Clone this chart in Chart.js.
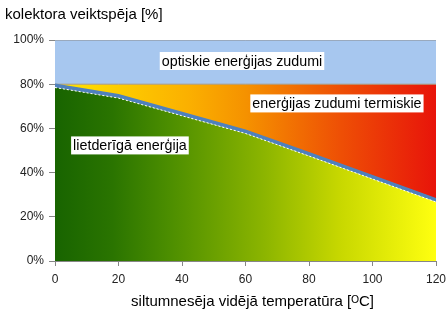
<!DOCTYPE html>
<html>
<head>
<meta charset="utf-8">
<script src="https://cdn.jsdelivr.net/npm/chart.js@4/dist/chart.umd.min.js"></script>
<style>
  html, body { margin: 0; padding: 0; background: #fff; }
  #wrap { width: 448px; height: 322px; }
</style>
</head>
<body>
<div id="wrap"><canvas id="eff-chart" width="448" height="322"></canvas></div>
<script>
// mean fluid temperature, °C
const temperatures = [0, 20, 40, 60, 80, 100, 120];
// collector efficiency curve (top of the blue line), %
const collectorCurve = [80, 75.2, 67.2, 59.2, 49, 38.6, 28.2];
// useful energy (green area top), %
const usefulEnergy = [78.5, 73.7, 65.7, 57.7, 47.5, 37.1, 26.7];
// limit after optical losses, %
const opticalLimit = [80, 80, 80, 80, 80, 80, 80];
// total incoming energy, %
const totalEnergy = [100, 100, 100, 100, 100, 100, 100];
const yTicks = [0, 20, 40, 60, 80, 100];

// area captions: [text, x (°C), y (%)]
const captions = [
    ['optiskie enerģijas zudumi', 58.9, 90.5],
    ['enerģijas zudumi termiskie', 88.8, 71.3],
    ['lietderīgā enerģija', 23.6, 52.3]
];
const xTitle = 'siltumnesēja vidējā temperatūra [ᴼC]';

const FONT = '"Liberation Sans", Arial, sans-serif';

//helper for horizontal gradients across the plot area
function hGradient(stops) {
    return ctx => {
        const chart = ctx.chart;
        const area = chart.chartArea;
        if (!area) return null;
        const g = chart.ctx.createLinearGradient(area.left, 0, area.right, 0);
        stops.forEach(s => g.addColorStop(s[0], s[1]));
        return g;
    };
}

const captionPlugin = {
    id: 'captions',
    afterDatasetsDraw(chart) {
        const c = chart.ctx;
        const xs = chart.scales.x, ys = chart.scales.y;
        c.save();
        c.font = '14.3px ' + FONT;
        c.textBaseline = 'middle';
        c.textAlign = 'center';
        captions.forEach(([text, x, y]) => {
            const px = xs.getPixelForValue(x);
            const py = ys.getPixelForValue(y);
            const w = c.measureText(text).width + 4;
            c.fillStyle = '#fff';
            c.fillRect(px - w / 2, py - 9, w, 18);
            c.fillStyle = '#000';
            c.fillText(text, px, py + 1);
        });
        // axis caption under the x ticks, slightly right of centre
        const area = chart.chartArea;
        c.font = '15px ' + FONT;
        c.fillText(xTitle, (area.left + area.right) / 2 + 7, 302);
        c.restore();
    }
};

const points = arr => arr.map((v, i) => ({ x: temperatures[i], y: v }));

new Chart(document.querySelector('#eff-chart').getContext('2d'), {
    type: 'line',
    data: {
        datasets: [
            {
                label: 'lietderīgā enerģija',
                data: points(usefulEnergy),
                fill: 'origin',
                backgroundColor: hGradient([
                    [0, '#186400'], [0.15, '#2a7400'], [0.3, '#4c8e00'],
                    [0.55, '#8cb500'], [0.75, '#c8d800'], [1, '#ffff10']
                ]),
                borderColor: '#ffffff',
                borderWidth: 1,
                borderDash: [2, 2],
                pointRadius: 0,
                tension: 0
            },
            {
                label: 'kolektora līkne',
                data: points(collectorCurve),
                fill: '-1',
                backgroundColor: '#4f81bd',
                borderColor: '#4f81bd',
                borderWidth: 1.5,
                pointRadius: 0,
                tension: 0
            },
            {
                label: 'termiskie zudumi',
                data: points(opticalLimit),
                fill: '-1',
                backgroundColor: hGradient([
                    [0, '#ffe600'], [0.35, '#fbb000'], [0.5, '#f59200'],
                    [0.75, '#ee4f05'], [1, '#e8140a']
                ]),
                borderColor: '#a89a80',
                borderWidth: 1,
                pointRadius: 0
            },
            {
                label: 'optiskie zudumi',
                data: points(totalEnergy),
                fill: '-1',
                backgroundColor: '#a7c7ef',
                borderColor: '#8c8c8c',
                borderWidth: 1,
                pointRadius: 0
            }
        ]
    },
    options: {
        responsive: false,
        animation: false,
        layout: { padding: { left: 5, right: 12, top: 0, bottom: 0 } },
        plugins: {
            legend: { display: false },
            tooltip: { enabled: false },
            title: {
                display: true,
                text: 'kolektora veiktspēja [%]',
                align: 'start',
                color: '#000',
                font: { family: FONT, size: 15, weight: 'normal' },
                padding: { top: 6, bottom: 16 }
            }
        },
        scales: {
            x: {
                type: 'linear',
                min: 0,
                max: 120,
                afterBuildTicks: scale => { scale.ticks = temperatures.map(v => ({ value: v })); },
                afterFit: scale => {
                    scale.height = 61;
                    scale.paddingLeft = 0;
                    scale.paddingRight = 0;
                },
                ticks: {
                    color: '#222',
                    font: { family: FONT, size: 12 },
                    padding: 6
                },
                grid: { drawOnChartArea: false, color: '#868686', tickLength: 5 },
                border: { color: '#868686' }
            },
            y: {
                min: 0,
                max: 100,
                afterBuildTicks: scale => { scale.ticks = yTicks.map(v => ({ value: v })); },
                afterFit: scale => { scale.width = 50; },
                ticks: {
                    color: '#222',
                    font: { family: FONT, size: 12 },
                    padding: 5,
                    callback: v => v + '%'
                },
                grid: { drawOnChartArea: false, color: '#868686', tickLength: 6 },
                border: { color: '#868686' }
            }
        }
    },
    plugins: [captionPlugin]
});
</script>
</body>
</html>
